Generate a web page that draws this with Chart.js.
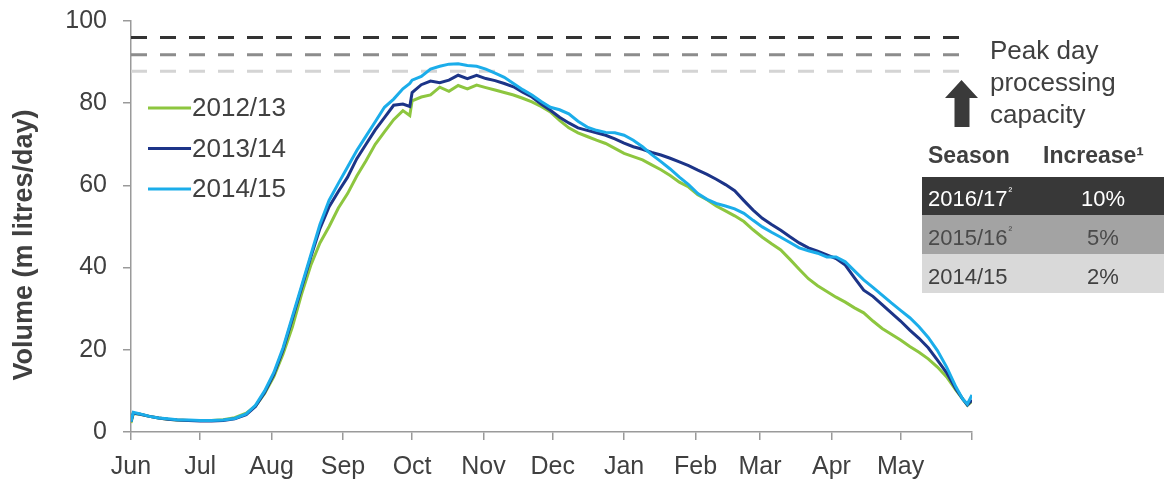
<!DOCTYPE html>
<html>
<head>
<meta charset="utf-8">
<script src="https://cdn.jsdelivr.net/npm/chart.js@4.4.0/dist/chart.umd.min.js"></script>
<style>
  html, body { margin: 0; padding: 0; background: #fff; }
</style>
</head>
<body>
<canvas id="chart" width="1164" height="485"></canvas>
<script>
// day of season (0 = 1 June) for each reading
const days = [
  0, 1, 4, 8, 12, 16, 20, 25, 30, 35,
  40, 45, 50, 54, 58, 62, 66, 70, 74, 78,
  82, 86, 90, 94, 98, 102, 106, 110, 114, 118,
  121, 122, 126, 130, 134, 138, 142, 146, 150, 154,
  158, 162, 166, 170, 174, 178, 182, 186, 190, 194,
  198, 202, 206, 210, 214, 218, 222, 226, 230, 234,
  238, 242, 246, 250, 254, 258, 262, 266, 270, 274,
  278, 282, 286, 290, 294, 298, 302, 306, 310, 314,
  318, 322, 326, 330, 334, 338, 342, 346, 350, 354,
  358, 361, 363, 365
];

// milk volume, m litres/day
const vol1213 = [
  2.2, 4.5, 4.3, 3.8, 3.4, 3.1, 2.9, 2.8, 2.8, 2.8,
  3.0, 3.5, 4.6, 6.3, 9.4, 13.5, 19.0, 25.5, 33.5, 40.5,
  46.0, 50.0, 54.5, 58.0, 62.3, 66.0, 70.0, 73.0, 76.0, 78.2,
  77.0, 80.6, 81.5, 82.0, 83.9, 82.9, 84.3, 83.5, 84.4, 83.8,
  83.2, 82.6, 82.0, 81.2, 80.3, 79.2, 77.9, 75.8, 74.0, 72.8,
  71.9, 71.0, 70.2, 69.0, 67.8, 67.0, 66.2, 65.0, 63.8, 62.4,
  60.8, 59.6, 57.7, 56.5, 55.0, 53.8, 52.6, 51.2, 49.2, 47.4,
  45.8, 44.3, 42.0, 39.6, 37.3, 35.6, 34.2, 32.8, 31.6, 30.2,
  29.0, 27.0, 25.2, 23.8, 22.4, 20.8, 19.4, 17.8, 15.8, 13.4,
  10.2, 8.0, 6.5, 7.5
];
const vol1314 = [
  2.5, 4.6, 4.3, 3.8, 3.4, 3.1, 2.9, 2.8, 2.7, 2.7,
  2.8, 3.2, 4.2, 6.2, 9.6, 14.0, 20.0, 27.5, 35.0, 42.5,
  49.5, 54.8, 58.5, 62.0, 66.5, 70.0, 73.5, 76.5, 79.5, 79.8,
  79.2, 82.6, 84.5, 85.4, 85.0, 85.6, 86.8, 86.0, 86.8, 86.0,
  85.5, 84.8, 84.0, 82.7, 81.5, 79.8, 78.3, 76.6, 75.2, 74.0,
  73.4, 72.8, 72.2, 71.3, 70.3, 69.4, 68.8, 68.0, 67.4, 66.6,
  65.7, 64.8, 63.7, 62.7, 61.5, 60.2, 58.7, 56.3, 54.0, 52.0,
  50.5, 49.1, 47.5, 46.0, 44.8, 44.0, 43.1, 42.2, 40.6, 37.5,
  34.5, 33.0, 31.0, 29.0, 27.0, 24.8, 22.8, 20.5, 17.5, 14.4,
  10.5, 8.0, 6.6, 7.8
];
const vol1415 = [
  2.5, 4.8, 4.4, 3.8, 3.4, 3.2, 3.0, 2.9, 2.8, 2.8,
  2.9, 3.3, 4.4, 6.5, 10.0, 14.5, 20.5, 28.0, 35.5, 43.0,
  50.5, 56.4, 60.5, 64.5, 68.5, 72.0, 75.5, 79.0, 81.0, 83.5,
  84.8, 85.6, 86.5, 88.3, 89.0, 89.5, 89.6, 89.2, 89.0, 88.3,
  87.3, 86.3, 84.8, 83.3, 82.0, 80.4, 79.0, 78.4, 77.4, 75.6,
  74.2, 73.4, 72.9, 72.8, 72.2, 71.0, 69.4, 67.5, 65.8, 64.0,
  62.0, 60.2, 58.0, 56.6, 55.6, 55.0, 54.3, 53.2, 51.5, 49.9,
  48.6, 47.4, 46.1, 44.8, 44.1, 43.5, 42.6, 42.6, 41.4, 39.2,
  37.0, 35.2, 33.3, 31.4, 29.6, 27.8, 25.6, 23.0, 19.8, 15.8,
  11.0, 8.0, 6.8, 9.0
];

const seasons = ["2012/13", "2013/14", "2014/15"];
const seasonColours = ["#8dc63f", "#1c3488", "#1badea"];

// month start positions on the day axis and their labels
const monthTicks = [0, 30, 61, 92, 122, 153, 183, 214, 245, 273, 304, 334, 365];
const monthLabels = ["Jun", "Jul", "Aug", "Sep", "Oct", "Nov", "Dec", "Jan", "Feb", "Mar", "Apr", "May", ""];

// peak day processing capacity lines
const capacityLevels = [96, 91.8, 87.8];
const capacityEnd = 361;
const capacityColours = ["#333333", "#8c8c8c", "#d4d4d4"];

// capacity table
const tableSeasons = ["2016/17", "2015/16", "2014/15"];
const tableNotes = ["²", "²", ""];
const tableIncrease = ["10%", "5%", "2%"];

const FONT = "'Liberation Sans', Arial, sans-serif";
const TEXT = "#404040";
Chart.defaults.font.family = FONT;
Chart.defaults.color = TEXT;

const seriesValues = [vol1213, vol1314, vol1415];
const lineSets = seriesValues.map((vals, i) => ({
  label: seasons[i],
  data: days.map((d, j) => ({ x: d, y: vals[j] })),
  borderColor: seasonColours[i],
  backgroundColor: seasonColours[i],
  borderWidth: 3,
  pointRadius: 0,
  tension: 0,
  order: 3 - i,
}));
const capacitySets = capacityLevels.map((lvl, i) => ({
  label: "capacity " + i,
  capacity: true,
  data: [{ x: 0, y: lvl }, { x: capacityEnd, y: lvl }],
  borderColor: capacityColours[i],
  borderWidth: 3,
  borderDash: [16, 13],
  pointRadius: 0,
  order: 4,
}));

// Axis title, legend, arrow note and capacity table
const decor = {
  id: "decor",
  afterDraw(chart) {
    const ctx = chart.ctx;
    ctx.save();

    // y axis title
    ctx.save();
    ctx.translate(25, 245);
    ctx.rotate(-Math.PI / 2);
    ctx.font = "bold 27px " + FONT;
    ctx.fillStyle = TEXT;
    ctx.textAlign = "center";
    ctx.textBaseline = "middle";
    ctx.fillText("Volume (m litres/day)", 0, 0);
    ctx.restore();

    // legend
    const sets = chart.data.datasets.filter((d) => !d.capacity);
    sets.forEach((ds, i) => {
      const y = 108 + i * 40.5;
      ctx.strokeStyle = ds.borderColor;
      ctx.lineWidth = 3;
      ctx.beginPath();
      ctx.moveTo(148, y);
      ctx.lineTo(191, y);
      ctx.stroke();
      ctx.font = "26px " + FONT;
      ctx.fillStyle = TEXT;
      ctx.textAlign = "left";
      ctx.textBaseline = "middle";
      ctx.fillText(ds.label, 192, y + 1);
    });

    // note text
    ctx.font = "26px " + FONT;
    ctx.fillStyle = TEXT;
    ctx.textBaseline = "alphabetic";
    ctx.textAlign = "left";
    ["Peak day", "processing", "capacity"].forEach((t, i) => {
      ctx.fillText(t, 990, 59 + i * 32);
    });

    // up arrow
    ctx.fillStyle = "#3a3a3a";
    ctx.beginPath();
    ctx.moveTo(945, 98);
    ctx.lineTo(961.5, 80);
    ctx.lineTo(978, 98);
    ctx.lineTo(969.5, 98);
    ctx.lineTo(969.5, 127);
    ctx.lineTo(954.5, 127);
    ctx.lineTo(954.5, 98);
    ctx.closePath();
    ctx.fill();

    // table header
    ctx.font = "bold 23px " + FONT;
    ctx.fillStyle = TEXT;
    ctx.fillText("Season", 928, 163);
    ctx.fillText("Increase¹", 1043, 163);

    // table rows
    const rowTop = [177, 215, 254];
    const rowBottom = [215, 254, 293];
    const rowFill = ["#383838", "#a3a3a3", "#d9d9d9"];
    const rowText = ["#ffffff", "#4a4a4a", TEXT];
    tableSeasons.forEach((s, i) => {
      ctx.fillStyle = rowFill[i];
      ctx.fillRect(922, rowTop[i], 1164 - 922, rowBottom[i] - rowTop[i]);
      const base = rowBottom[i] - 9;
      ctx.fillStyle = rowText[i];
      ctx.font = "22px " + FONT;
      ctx.textAlign = "left";
      ctx.fillText(s, 928, base);
      const w = ctx.measureText(s).width;
      if (tableNotes[i]) {
        ctx.font = "11px " + FONT;
        ctx.fillText(tableNotes[i], 928 + w + 1, base - 11);
      }
      ctx.font = "22px " + FONT;
      ctx.textAlign = "center";
      ctx.fillText(tableIncrease[i], 1103, base);
    });

    ctx.restore();
  },
};

new Chart(document.getElementById("chart"), {
  type: "line",
  data: { datasets: [...lineSets, ...capacitySets] },
  plugins: [decor],
  options: {
    responsive: false,
    animation: false,
    layout: { padding: { top: 21, right: 192, left: 0, bottom: 0 } },
    plugins: { legend: { display: false }, tooltip: { enabled: false } },
    scales: {
      x: {
        type: "linear",
        min: 0,
        max: 365,
        afterBuildTicks: (scale) => {
          scale.ticks = monthTicks.map((v) => ({ value: v }));
        },
        afterFit: (scale) => { scale.height = 53; },
        ticks: {
          autoSkip: false,
          maxRotation: 0,
          padding: 12,
          font: { size: 25 },
          color: TEXT,
          callback: (v, i) => monthLabels[i],
        },
        grid: { drawOnChartArea: false, drawTicks: true, tickLength: 8, color: "#9a9a9a", lineWidth: 1.5 },
        border: { color: "#9a9a9a", width: 1.5 },
      },
      y: {
        min: 0,
        max: 100,
        afterFit: (scale) => {
          scale.width = 131;
          scale.paddingTop = 0;
          scale.paddingBottom = 0;
        },
        ticks: { stepSize: 20, padding: 16, font: { size: 25 }, color: TEXT },
        grid: { drawOnChartArea: false, drawTicks: true, tickLength: 8, color: "#9a9a9a", lineWidth: 1.5 },
        border: { color: "#9a9a9a", width: 1.5 },
      },
    },
  },
});
</script>
</body>
</html>
